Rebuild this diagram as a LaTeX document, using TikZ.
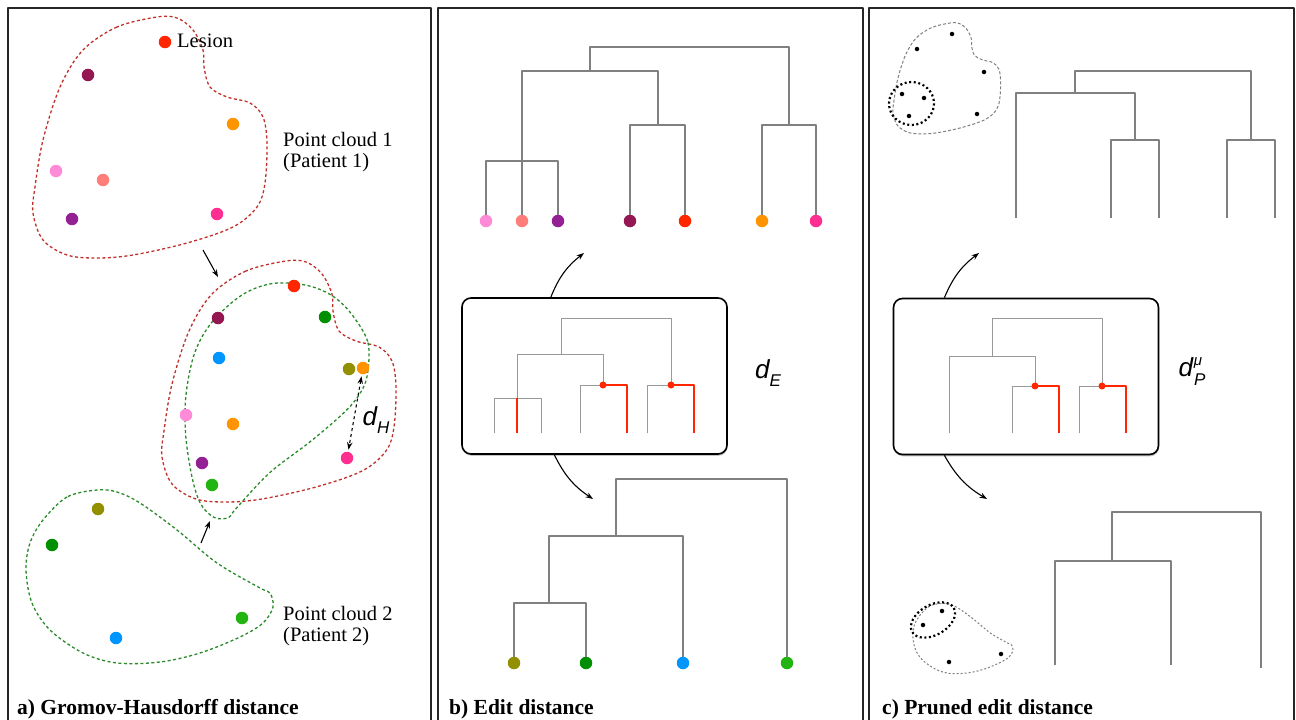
\documentclass[tikz,border=0pt]{standalone}
\usepackage{fontspec}
\setmainfont{Liberation Serif}
\newfontfamily\dfont{Liberation Sans}
\usetikzlibrary{arrows.meta,shadows}
\definecolor{lesionred}{HTML}{FF2600}
\definecolor{maroon}{HTML}{941751}
\definecolor{tangerine}{HTML}{FF9300}
\definecolor{carnation}{HTML}{FF8AD8}
\definecolor{salmon}{HTML}{FF7E79}
\definecolor{plum}{HTML}{942193}
\definecolor{strawberry}{HTML}{FF2F92}
\definecolor{clover}{HTML}{008F00}
\definecolor{aqua}{HTML}{0096FF}
\definecolor{asparagus}{HTML}{929000}
\definecolor{fern}{HTML}{22B411}
\definecolor{cloudred}{HTML}{C0302A}
\definecolor{cloudgreen}{HTML}{2A8A2A}
\definecolor{treegrey}{HTML}{808080}
\def\cloudA{plot[smooth cycle,tension=.55] coordinates {(157,17) (117,27) (83,50) (60,87) (43,140) (35,187) (33,213) (43,240) (67,255) (97,258) (133,255) (187,243) (233,227) (257,207) (265,183) (267,143) (263,117) (250,103) (227,97) (210,87) (204,67) (203,50) (193,30) (177,18)}}
\def\cloudB{plot[smooth cycle,tension=.55] coordinates {(97,490) (67,497) (43,520) (30,543) (26,570) (32,603) (50,630) (83,653) (117,663) (160,662) (200,653) (240,637) (263,623) (273,607) (270,593) (260,588) (217,563) (177,530) (140,503) (117,492)}}
\begin{document}
\begin{tikzpicture}[x=1pt,y=-1pt,>={Stealth[length=7.5pt,width=5.5pt]},line join=round,
	pt/.style={circle,fill=#1,inner sep=0pt,minimum size=12.5pt},
	sdot/.style={circle,fill=black,inner sep=0pt,minimum size=4.5pt},
	rdot/.style={circle,fill=lesionred,inner sep=0pt,minimum size=7pt},
	tree/.style={draw=treegrey,line width=1.4pt},
	ltree/.style={draw=treegrey!80,line width=1pt},
	rtree/.style={draw=lesionred,line width=2.4pt},
	redcloud/.style={draw=cloudred,line width=1.3pt,dash pattern=on 3pt off 2.5pt},
	greencloud/.style={draw=cloudgreen,line width=1.3pt,dash pattern=on 3pt off 2.5pt},
	greycloud/.style={draw=gray,line width=1pt,dash pattern=on 3pt off 2pt},
	dotring/.style={draw=black,line width=2.2pt,dash pattern=on 2pt off 2.6pt},
	ebox/.style={draw,fill=white,line width=1.6pt,rounded corners=9pt,minimum width=265pt,minimum height=156pt,inner sep=0pt,
		drop shadow={shadow xshift=.6pt,shadow yshift=-1.8pt,opacity=.45}},
	arr/.style={->,line width=1.1pt},
	lbl/.style={inner sep=0pt,font=\fontsize{20.5}{21}\selectfont},
	panelcap/.style={inner sep=0pt,anchor=base west,font=\fontsize{21.5}{22}\selectfont\bfseries},
	dlbl/.style={inner sep=0pt,font=\fontsize{26}{26}\selectfont\dfont\itshape}]
	\fill[white] (0,0) rectangle (1296,720);
	\useasboundingbox (0,0) rectangle (1296,720);
	% panel frames
	\draw[line width=1.5pt,draw=black!85] (8,720) -- (8,8) -- (431,8) -- (431,720);
	\draw[line width=1.5pt,draw=black!85] (438,720) -- (438,8) -- (863,8) -- (863,720);
	\draw[line width=1.5pt,draw=black!85] (869,720) -- (869,8) -- (1294,8) -- (1294,720);
	
	% a) point clouds
	\draw[redcloud] \cloudA;
	\draw[greencloud] \cloudB;
	\begin{scope}[shift={(129,244)}]
		\draw[redcloud] \cloudA;
	\end{scope}
	\begin{scope}[shift={(349,369)},rotate=-103,shift={(-98,-509)}]
		\draw[greencloud] \cloudB;
	\end{scope}
	\node[pt=lesionred] (les) at (165,42) {};
	\node[lbl,anchor=base west] (lesl) at (177,47) {Lesion};
	\node[pt=maroon] (a2) at (88,75) {};
	\node[pt=tangerine] (a3) at (233,124) {};
	\node[pt=carnation] (a4) at (56,171) {};
	\node[pt=salmon] (a5) at (103,180) {};
	\node[pt=plum] (a6) at (72,219) {};
	\node[pt=strawberry] (a7) at (217,214) {};
	\node[lbl,anchor=north west,align=left] (pc1) at (283,132) {Point cloud 1\\(Patient 1)};
	
	\node[pt=lesionred] (r1) at (294,286) {};
	\node[pt=maroon] (r2) at (218,318) {};
	\node[pt=clover] (g1) at (325,317) {};
	\node[pt=aqua] (g2) at (219,358) {};
	\node[pt=asparagus] (g3) at (349,369) {};
	\node[pt=tangerine] (r3) at (363,368) {};
	\node[pt=carnation] (r4) at (186,415) {};
	\node[pt=tangerine] (r5) at (233,424) {};
	\node[pt=strawberry] (r6) at (347,458) {};
	\node[pt=plum] (r7) at (202,463) {};
	\node[pt=fern] (g4) at (212,485) {};
	\draw[<->,dashed,line width=1.1pt,shorten <=2pt,shorten >=2pt] (r3) -- (r6);
	\node[dlbl] (dH) at (376,420) {d\raisebox{-.3em}{\fontsize{17}{17}\selectfont H}};
	
	\node[pt=asparagus] (c1) at (98,509) {};
	\node[pt=clover] (c2) at (52,545) {};
	\node[pt=fern] (c3) at (242,618) {};
	\node[pt=aqua] (c4) at (116,638) {};
	\node[lbl,anchor=north west,align=left] (pc2) at (283,606) {Point cloud 2\\(Patient 2)};
	
	\coordinate (t1) at (203,250);
	\coordinate (t2) at (218,277);
	\draw[arr] (t1) -- (t2);
	\coordinate (u1) at (201,543);
	\coordinate (u2) at (210,521);
	\draw[arr] (u1) -- (u2);
	\node[panelcap] (capa) at (17,714) {a) Gromov-Hausdorff distance};
	
	% b) edit distance
	\node[pt=carnation] (b1) at (486,221) {};
	\node[pt=salmon] (b2) at (522,221) {};
	\node[pt=plum] (b3) at (558,221) {};
	\node[pt=maroon] (b4) at (630,221) {};
	\node[pt=lesionred] (b5) at (685,221) {};
	\node[pt=tangerine] (b6) at (762,221) {};
	\node[pt=strawberry] (b7) at (816,221) {};
	\draw[tree] (b1) |- (558,161) -- (b3);
	\draw[tree] (b4) |- (685,125) -- (b5);
	\draw[tree] (b6) |- (816,125) -- (b7);
	\draw[tree] (b2) |- (658,71) -- (658,125);
	\draw[tree] (590,71) |- (789,47) -- (789,125);
	
	\node[ebox] (boxE) at (594.5,376) {};
	\draw[ltree] (561,354) |- (671,318) -- (671,385);
	\draw[ltree] (517,398) |- (603,354) -- (603,385);
	\draw[ltree] (494,433) |- (541,398) -- (541,433);
	\draw[rtree] (517,398) -- (517,433);
	\draw[ltree] (580,433) |- (603,385);
	\draw[rtree] (603,385) -| (627,433);
	\draw[ltree] (647,433) |- (671,385);
	\draw[rtree] (671,385) -| (694,433);
	\node[rdot] (e1) at (603,385) {};
	\node[rdot] (e2) at (671,385) {};
	\node[dlbl] (dE) at (768,373) {d\raisebox{-.3em}{\fontsize{17}{17}\selectfont E}};
	
	\coordinate (bt) at (584,253);
	\coordinate (bb) at (593,499);
	\draw[arr] (boxE.119) to[bend left=15] (bt);
	\draw[arr] (boxE.243) to[bend right=15] (bb);
	
	\node[pt=asparagus] (d1) at (514,663) {};
	\node[pt=clover] (d2) at (586,663) {};
	\node[pt=aqua] (d3) at (683,663) {};
	\node[pt=fern] (d4) at (787,663) {};
	\draw[tree] (d1) |- (586,603) -- (d2);
	\draw[tree] (549,603) |- (683,536) -- (d3);
	\draw[tree] (616,536) |- (787,479) -- (d4);
	\node[panelcap] (capb) at (449,714) {b) Edit distance};
	
	% c) pruned edit distance
	\begin{scope}[shift={(877.8,15.2)},scale=.46]
		\draw[greycloud] \cloudA;
	\end{scope}
	\begin{scope}[shift={(902.3,404.9)},scale=.405]
		\draw[greycloud,dash pattern=on 2pt off 2pt] \cloudB;
	\end{scope}
	\foreach \p in {(952,34),(917,49),(984,72),(902,94),(924,98),(909,116),(977,114),(942,611),(923,625),(949,662),(1001,654)}
		\node[sdot] at \p {};
	\draw[dotring] (911.5,103.5) ellipse [x radius=22.5,y radius=21.5];
	\draw[dotring,rotate around={30:(933,620)}] (933,620) ellipse [x radius=24,y radius=15];
	
	\draw[tree] (1016,218) |- (1135,93) -- (1135,140);
	\draw[tree] (1111,218) |- (1159,140) -- (1159,218);
	\draw[tree] (1227,218) |- (1275,140) -- (1275,218);
	\draw[tree] (1075,93) |- (1251,71) -- (1251,140);
	
	\node[ebox] (boxP) at (1026,376.5) {};
	\draw[ltree] (992,356) |- (1102,318) -- (1102,386);
	\draw[ltree] (949,433) |- (1035,356) -- (1035,386);
	\draw[ltree] (1012,433) |- (1035,386);
	\draw[rtree] (1035,386) -| (1059,433);
	\draw[ltree] (1079,433) |- (1102,386);
	\draw[rtree] (1102,386) -| (1126,433);
	\node[rdot] (f1) at (1035,386) {};
	\node[rdot] (f2) at (1102,386) {};
	\node[dlbl] (dP) at (1192,372) {d\kern1pt\raisebox{.42em}{\fontsize{15}{15}\selectfont μ}\kern-8pt\raisebox{-.35em}{\fontsize{17}{17}\selectfont P}};
	
	\coordinate (ct) at (979,253);
	\coordinate (cb) at (987,499);
	\draw[arr] (boxP.136) to[bend left=15] (ct);
	\draw[arr] (boxP.224.5) to[bend right=15] (cb);
	
	\draw[tree] (1055,665) |- (1171,561) -- (1171,665);
	\draw[tree] (1112,561) |- (1261,512) -- (1261,668);
	\node[panelcap] (capc) at (882,714) {c) Pruned edit distance};
\end{tikzpicture}
\end{document}
